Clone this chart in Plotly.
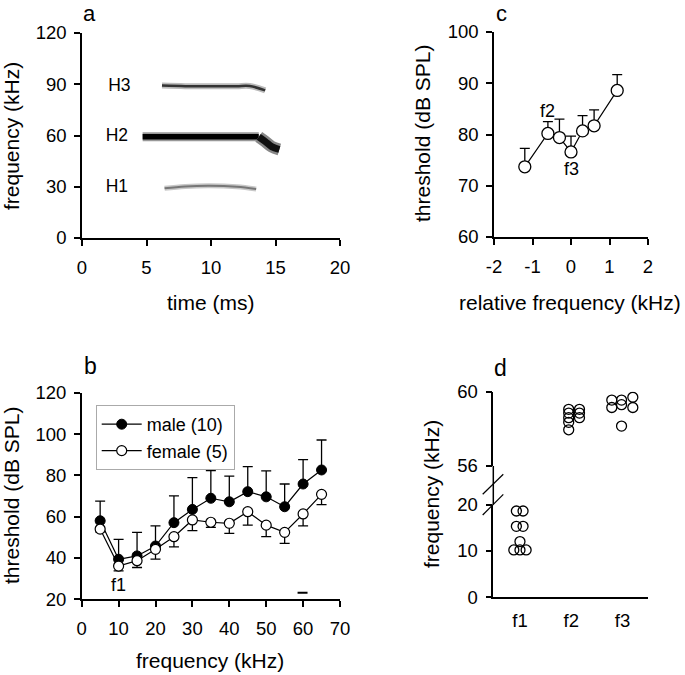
import numpy as np
import plotly.graph_objects as go

W, H = 685, 675
FONT = "Arial, Liberation Sans, sans-serif"

# ---------------- data ----------------
# panel a: call harmonics (time ms, frequency kHz)
h1_t = [6.4, 8.0, 9.9, 12.0, 13.5]
h1_f = [29.1, 30.2, 30.6, 30.0, 28.7]
h2_t = [4.7, 6.0, 8.0, 10.0, 12.0, 13.7]
h2_f = [59.2, 59.3, 59.3, 59.3, 59.3, 59.2]
h2_tail_t = [13.7, 14.2, 14.7, 15.3]
h2_tail_f = [59.2, 56.5, 53.5, 51.8]
h3_t = [6.2, 8.0, 10.0, 12.0, 13.0, 14.2]
h3_f = [89.2, 88.9, 88.8, 88.9, 89.0, 86.4]
harm_labels = ["H3", "H2", "H1"]
harm_label_t = [2.9, 2.7, 2.7]
harm_label_f = [88.5, 59.3, 29.5]

# panel b: audiograms
freq_b = [5, 10, 15, 20, 25, 30, 35, 40, 45, 50, 55, 60, 65]
male = [58.0, 39.4, 41.0, 45.8, 57.1, 63.5, 68.9, 67.2, 72.1, 69.6, 64.8, 75.8, 82.6]
male_top = [67.5, 49.0, 52.4, 55.5, 70.1, 78.9, 82.3, 79.6, 84.2, 82.2, 75.8, 87.6, 97.1]
female = [54.0, 36.1, 38.7, 44.2, 50.3, 58.4, 57.3, 56.8, 62.4, 55.9, 52.4, 61.3, 70.8]
female_low = [52.6, 33.8, 35.4, 39.4, 45.4, 53.2, 54.8, 51.9, 55.9, 50.3, 47.1, 55.5, 65.8]
bar_x = [58.5, 61.2]
bar_y = [23.2, 23.2]

# panel c: fine-scale thresholds
rel_f = [-1.2, -0.6, -0.3, 0.0, 0.3, 0.6, 1.2]
thr_c = [73.7, 80.2, 79.4, 76.6, 80.7, 81.7, 88.6]
thr_c_top = [77.3, 82.5, 83.0, 79.7, 83.7, 84.8, 91.7]
c_ticktext = ["-2", "-1", "0", "1", "2"]

# panel d: individual f1, f2, f3 values
cats_d = ["f1", "f2", "f3"]
f1_x = [-0.07, 0.06, -0.07, 0.06, 0.0, -0.12, 0.0, 0.12]
f1_y = [18.6, 18.6, 15.3, 15.3, 12.0, 10.2, 10.2, 10.2]
f2_x = [0.95, 0.95, 0.95, 0.95, 0.95, 1.16, 1.16, 1.16]
f2_y = [59.05, 58.85, 58.6, 58.35, 57.95, 59.05, 58.85, 58.6]
f3_x = [1.79, 1.98, 2.2, 1.79, 1.98, 2.2, 1.98]
f3_y = [59.55, 59.55, 59.7, 59.15, 59.3, 59.15, 58.15]


def px(x):
    return x / W


def py(y):
    return 1 - y / H


fig = go.Figure()

# ---------- panel a ----------
for t, f, wl, wd, cl, cd in [
    (h3_t, h3_f, 6, 2.5, "#bbbbbb", "#333333"),
    (h1_t, h1_f, 5, 2.0, "#c8c8c8", "#777777"),
    (h2_t, h2_f, 9, 5.5, "#999999", "#000000"),
    (h2_tail_t, h2_tail_f, 12, 7, "#888888", "#111111"),
]:
    fig.add_trace(go.Scatter(x=t, y=f, mode="lines", line=dict(color=cl, width=wl, shape="spline"),
                             xaxis="x", yaxis="y", showlegend=False, hoverinfo="skip"))
    fig.add_trace(go.Scatter(x=t, y=f, mode="lines", line=dict(color=cd, width=wd, shape="spline"),
                             xaxis="x", yaxis="y", showlegend=False, hoverinfo="skip"))
fig.add_trace(go.Scatter(x=harm_label_t, y=harm_label_f, mode="text", text=harm_labels,
                         textfont=dict(family=FONT, size=17.5, color="black"),
                         xaxis="x", yaxis="y", showlegend=False, hoverinfo="skip"))

# ---------- panel c ----------
thr_c_arr = np.array(thr_c)
fig.add_trace(go.Scatter(
    x=rel_f, y=thr_c, mode="lines+markers",
    line=dict(color="black", width=1.2),
    marker=dict(symbol="circle", size=12, color="white", line=dict(color="black", width=1.3)),
    error_y=dict(type="data", symmetric=False, array=list(np.array(thr_c_top) - thr_c_arr),
                 arrayminus=[0] * len(thr_c), width=5, thickness=1.3, color="black"),
    xaxis="x2", yaxis="y2", showlegend=False))

# ---------- panel b ----------
male_arr = np.array(male)
female_arr = np.array(female)
fig.add_trace(go.Scatter(
    x=freq_b, y=male, mode="lines+markers", name="male (10)",
    line=dict(color="black", width=1.2),
    marker=dict(symbol="circle", size=10, color="black", line=dict(color="black", width=1)),
    error_y=dict(type="data", symmetric=False, array=list(np.array(male_top) - male_arr),
                 arrayminus=[0] * len(male), width=5, thickness=1.3, color="black"),
    xaxis="x3", yaxis="y3", showlegend=True))
fig.add_trace(go.Scatter(
    x=freq_b, y=female, mode="lines+markers", name="female (5)",
    line=dict(color="black", width=1.2),
    marker=dict(symbol="circle", size=10, color="white", line=dict(color="black", width=1.2)),
    error_y=dict(type="data", symmetric=False, array=[0] * len(female),
                 arrayminus=list(female_arr - np.array(female_low)), width=5, thickness=1.3, color="black"),
    xaxis="x3", yaxis="y3", showlegend=True))
fig.add_trace(go.Scatter(x=bar_x, y=bar_y, mode="lines", line=dict(color="black", width=2),
                         xaxis="x3", yaxis="y3", showlegend=False, hoverinfo="skip"))

# ---------- panel d ----------
dmark = dict(symbol="circle-open", size=10, color="black", line=dict(color="black", width=1.3))
fig.add_trace(go.Scatter(x=f1_x, y=f1_y, mode="markers", marker=dmark,
                         xaxis="x4", yaxis="y4", showlegend=False))
fig.add_trace(go.Scatter(x=f2_x + f3_x, y=f2_y + f3_y, mode="markers", marker=dmark,
                         xaxis="x4", yaxis="y5", showlegend=False))

tickfont = dict(family=FONT, size=18.5, color="black")
ax = dict(showgrid=False, zeroline=False, showline=True, linecolor="black", linewidth=1.5,
          ticks="outside", ticklen=6, tickwidth=1.5, tickcolor="black", tickfont=tickfont,
          fixedrange=True, automargin=False)

fig.update_layout(
    template="none",
    width=W, height=H, margin=dict(l=0, r=0, t=0, b=0, pad=0, autoexpand=False),
    paper_bgcolor="white", plot_bgcolor="white",
    font=dict(family=FONT, color="black"),
    xaxis=dict(ax, domain=[px(82), px(340)], range=[0, 20], tickvals=[0, 5, 10, 15, 20],
               anchor="y", ticklabelstandoff=6),
    yaxis=dict(ax, domain=[py(238), py(33)], range=[0, 120], tickvals=[0, 30, 60, 90, 120],
               anchor="x", ticklabelstandoff=4),
    xaxis2=dict(ax, domain=[px(494), px(648)], range=[-2, 2], tickvals=[-2, -1, 0, 1, 2],
                ticktext=c_ticktext, anchor="y2", ticklabelstandoff=6),
    yaxis2=dict(ax, domain=[py(237), py(32)], range=[60, 100], tickvals=[60, 70, 80, 90, 100],
                anchor="x2", ticklabelstandoff=4),
    xaxis3=dict(ax, domain=[px(81.7), px(340)], range=[0, 70], tickvals=list(range(0, 71, 10)),
                anchor="y3", ticklabelstandoff=6),
    yaxis3=dict(ax, domain=[py(599.3), py(392.7)], range=[20, 120], tickvals=list(range(20, 121, 20)),
                anchor="x3", ticklabelstandoff=4),
    xaxis4=dict(ax, domain=[px(493.3), px(647.7)], range=[-0.52, 2.49], tickvals=[0, 1, 2],
                ticktext=cats_d, ticks="", anchor="y4", ticklabelstandoff=6),
    yaxis4=dict(ax, domain=[py(597.3), py(504.5)], range=[0, 20], tickvals=[0, 10, 20],
                anchor="x4", ticklabelstandoff=4),
    yaxis5=dict(ax, domain=[py(466), py(391.7)], range=[56, 60], tickvals=[56, 60],
                anchor="x4", ticklabelstandoff=4),
    legend=dict(x=px(95.7), y=py(405), xanchor="left", yanchor="top",
                bordercolor="#aaaaaa", borderwidth=1, bgcolor="white",
                font=dict(family=FONT, size=18, color="black"), itemwidth=40,
                tracegroupgap=0),
)

ann = []


def label(x, y, text, size, angle=0, yanchor="middle"):
    ann.append(dict(x=px(x), y=py(y), xref="paper", yref="paper", text=text, showarrow=False,
                    textangle=angle, xanchor="center", yanchor=yanchor, borderpad=0,
                    font=dict(family=FONT, size=size, color="black")))


# panel letters
label(89, 0, "a", 22, yanchor="top")
label(90, 366, "b", 23)
label(501, 0, "c", 22, yanchor="top")
label(500, 368, "d", 23)
# axis titles
label(11, 136, "frequency (kHz)", 21, -90)
label(211, 302, "time (ms)", 21)
label(422, 134, "threshold (dB SPL)", 21, -90)
label(570, 302, "relative frequency (kHz)", 21)
label(11, 496, "threshold (dB SPL)", 21, -90)
label(210, 660, "frequency (kHz)", 21)
label(431, 494, "frequency (kHz)", 21, -90)
fig.update_layout(annotations=ann)

# in-plot text labels (data coordinates)
fig.add_annotation(x=10, y=27, xref="x3", yref="y3", text="f1", showarrow=False,
                   font=dict(family=FONT, size=18, color="black"))
fig.add_annotation(x=-0.6, y=84.5, xref="x2", yref="y2", text="f2", showarrow=False,
                   font=dict(family=FONT, size=18, color="black"))
fig.add_annotation(x=0.0, y=73.3, xref="x2", yref="y2", text="f3", showarrow=False,
                   font=dict(family=FONT, size=18, color="black"))

# axis break decoration for panel d
shapes = [
    dict(type="line", xref="paper", yref="paper", x0=px(493.3), x1=px(493.3), y0=py(504.5), y1=py(466),
         line=dict(color="black", width=1.5)),
    dict(type="line", xref="paper", yref="paper", x0=px(482.7), x1=px(503.3), y0=py(494.3), y1=py(474.3),
         line=dict(color="black", width=1.2)),
    dict(type="line", xref="paper", yref="paper", x0=px(482.7), x1=px(503.3), y0=py(515), y1=py(494.3),
         line=dict(color="black", width=1.2)),
]
fig.update_layout(shapes=shapes)

fig.write_html("out.html", config={"displayModeBar": False},
               post_script="document.body.style.margin='0';document.body.style.overflow='hidden';")
